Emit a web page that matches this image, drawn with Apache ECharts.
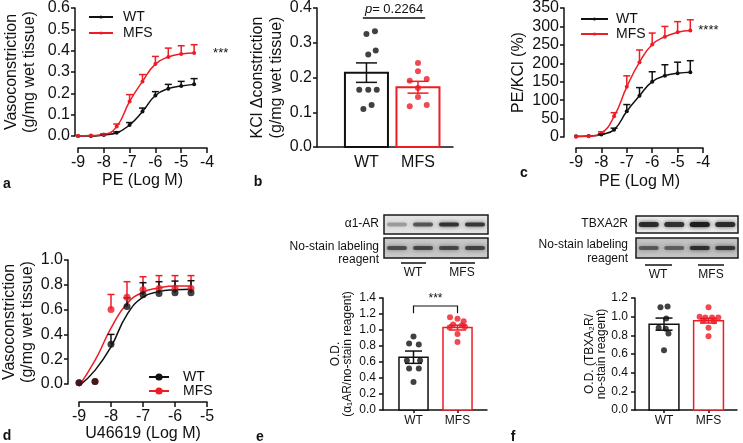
<!DOCTYPE html>
<html>
<head>
<meta charset="utf-8">
<script src="https://cdn.jsdelivr.net/npm/echarts@6/dist/echarts.min.js"></script>
<style>
  html, body { margin: 0; background: #fff; }
  #chart { width: 743px; height: 443px; }
</style>
</head>
<body>
<div id="chart"></div>
<script>
// a: PE dose response (g/mg wet tissue)
const doseA = [-9, -8.5, -8, -7.5, -7, -6.5, -6, -5.5, -5, -4.5];
const aWT = [0, 0, 0.005, 0.015, 0.052, 0.115, 0.19, 0.222, 0.234, 0.242];
const aWTsem = [0, 0, 0.003, 0.004, 0.011, 0.016, 0.018, 0.02, 0.022, 0.027];
const aMFS = [0, 0.002, 0.007, 0.044, 0.162, 0.256, 0.337, 0.37, 0.384, 0.389];
const aMFSsem = [0, 0, 0.003, 0.012, 0.032, 0.032, 0.036, 0.042, 0.039, 0.039];

// b: KCl constriction, individual animals
const groups = ['WT', 'MFS'];
const bMean = [0.214, 0.172];
const bSem = [0.028, 0.017];
const bWTdots = [[1.0, 0.325], [1.165, 0.333], [1.035, 0.266], [1.18, 0.278], [0.86, 0.165], [1.035, 0.165], [1.2, 0.165], [0.94, 0.109], [1.1, 0.121]];
const bMFSdots = [[2.0, 0.242], [2.0, 0.218], [1.84, 0.191], [2.17, 0.196], [2.0, 0.17], [2.0, 0.144], [1.84, 0.117], [2.17, 0.121]];

// c: PE/KCl (%)
const cWT = [2, 3, 7, 20, 70, 112, 150, 166, 173, 176];
const cWTsem = [0, 0, 1, 4, 18, 22, 27, 30, 30, 31];
const cMFS = [1, 2, 11, 56, 136, 203, 251, 272, 284, 289];
const cMFSsem = [0, 1, 3, 10, 30, 33, 31, 28, 29, 29];

// d: U46619 dose response, points and fitted curves
const doseD = [-9, -8.5, -8, -7.5, -7, -6.5, -6, -5.5];
const dWT = [0.01, 0.02, 0.32, 0.625, 0.72, 0.73, 0.735, 0.735];
const dWTsem = [0, 0, 0.08, 0.07, 0.097, 0.095, 0.095, 0.098];
const dMFS = [0.01, 0.02, 0.60, 0.70, 0.76, 0.77, 0.77, 0.77];
const dMFSsem = [0, 0, 0.122, 0.125, 0.105, 0.104, 0.104, 0.104];
const dWTfit = [-0.015, 0.11, 0.30, 0.56, 0.70, 0.745, 0.76, 0.765];
const dMFSfit = [-0.015, 0.19, 0.45, 0.65, 0.74, 0.775, 0.79, 0.79];

// e: alpha1-AR optical density
const eMean = [0.66, 1.03];
const eSem = [0.077, 0.03];
const eWTdots = [[1.0, 0.92], [0.9, 0.83], [1.12, 0.82], [0.85, 0.62], [1.15, 0.62], [0.9, 0.52], [1.12, 0.52], [1.0, 0.35]];
const eMFSdots = [[1.83, 1.16], [2.0, 1.14], [2.14, 1.11], [1.9, 1.07], [2.1, 1.06], [1.82, 1.03], [2.17, 1.04], [2.0, 0.95], [2.0, 0.85]];

// f: TBXA2R optical density
const fMean = [0.92, 0.957];
const fSem = [0.065, 0.025];
const fWTdots = [[0.92, 1.10], [1.08, 1.11], [1.05, 0.98], [0.88, 0.88], [1.04, 0.87], [1.1, 0.82], [1.0, 0.64]];
const fMFSdots = [[2.0, 1.10], [1.8, 1.0], [1.93, 0.99], [2.08, 0.99], [2.22, 0.99], [1.88, 0.96], [2.12, 0.95], [2.0, 0.88], [2.0, 0.79]];

// blot lane intensities (0..1)
const blotA1 = [0.12, 0.55, 0.8, 0.75];
const blotA1ns = [0.55, 0.6, 0.6, 0.62];
const blotTx = [0.85, 0.8, 1.0, 0.85];
const blotTxns = [0.45, 0.4, 0.8, 0.75];

const BLACK = '#111111';
const RED = '#ee1c25';
const FONT = 'Liberation Sans, Arial, sans-serif';

const chart = echarts.init(document.getElementById('chart'));

const pair = (xs, ys) => xs.map((x, i) => [x, ys[i]]);
const triple = (xs, ys, es) => xs.map((x, i) => [x, ys[i], es[i]]);

function axisBase(fontSize, tickLen, margin) {
  return {
    axisLine: { show: true, onZero: false, lineStyle: { color: BLACK, width: 1.5 } },
    axisTick: { show: true, length: tickLen, lineStyle: { color: BLACK, width: 1.5 } },
    axisLabel: { color: BLACK, fontSize: fontSize, margin: margin, fontFamily: FONT },
    splitLine: { show: false },
    nameTextStyle: { color: BLACK, fontSize: fontSize, fontFamily: FONT },
  };
}

// upward error bar (dose-response)
function errUp(cap) {
  return (params, api) => {
    const e = api.value(2);
    if (!e) return;
    const p0 = api.coord([api.value(0), api.value(1)]);
    const p1 = api.coord([api.value(0), api.value(1) + e]);
    const style = { stroke: api.visual('color'), lineWidth: 1.5 };
    return {
      type: 'group',
      children: [
        { type: 'line', shape: { x1: p0[0], y1: p0[1], x2: p1[0], y2: p1[1] }, style },
        { type: 'line', shape: { x1: p1[0] - cap / 2, y1: p1[1], x2: p1[0] + cap / 2, y2: p1[1] }, style },
      ],
    };
  };
}

// symmetric SEM bar (bar + dots)
function errBoth(cap) {
  return (params, api) => {
    const x = api.value(0), y = api.value(1), e = api.value(2);
    const pt = api.coord([x, y + e]);
    const pb = api.coord([x, y - e]);
    const style = { stroke: api.visual('color'), lineWidth: 1.5 };
    return {
      type: 'group',
      children: [
        { type: 'line', shape: { x1: pt[0], y1: pt[1], x2: pb[0], y2: pb[1] }, style },
        { type: 'line', shape: { x1: pt[0] - cap / 2, y1: pt[1], x2: pt[0] + cap / 2, y2: pt[1] }, style },
        { type: 'line', shape: { x1: pb[0] - cap / 2, y1: pb[1], x2: pb[0] + cap / 2, y2: pb[1] }, style },
      ],
    };
  };
}

function barRect(w, lw) {
  return (params, api) => {
    const x = api.value(0), y = api.value(1);
    const p0 = api.coord([x - w / 2, y]);
    const p1 = api.coord([x + w / 2, 0]);
    return {
      type: 'rect',
      shape: { x: p0[0], y: p0[1], width: p1[0] - p0[0], height: p1[1] - p0[1] },
      style: { fill: '#fff', stroke: api.visual('color'), lineWidth: lw },
    };
  };
}

function curve(name, xs, ys, color, idx, sym, size) {
  return {
    name, type: 'line', xAxisIndex: idx, yAxisIndex: idx,
    data: pair(xs, ys), smooth: 0.5,
    symbol: sym, symbolSize: size, showSymbol: sym !== 'none', clip: false,
    lineStyle: { color, width: 1.5 }, itemStyle: { color }, z: 2,
  };
}

function errSeries(xs, ys, es, color, idx, fn) {
  return {
    type: 'custom', xAxisIndex: idx, yAxisIndex: idx, renderItem: fn,
    data: triple(xs, ys, es), itemStyle: { color }, clip: false, z: 3, silent: true,
  };
}

function dots(data, color, idx, size) {
  return {
    type: 'scatter', xAxisIndex: idx, yAxisIndex: idx, data,
    symbolSize: size, itemStyle: { color }, z: 4, silent: true,
  };
}

function starsAfter(x, y, text, idx, dx) {
  return {
    type: 'custom', xAxisIndex: idx, yAxisIndex: idx, data: [[x, y]], clip: false, silent: true,
    renderItem: (params, api) => {
      const p = api.coord([api.value(0), api.value(1)]);
      return { type: 'text', x: p[0] + dx, y: p[1], style: { text, fill: BLACK, fontSize: 13, fontFamily: FONT, verticalAlign: 'middle' } };
    },
  };
}

function blot(x, y, w, h, bg, lanes, bandH) {
  const children = [{ type: 'rect', shape: { x, y, width: w, height: h },
    style: { fill: { type: 'linear', x: 0, y: 0, x2: 0, y2: 1, colorStops: [{ offset: 0, color: bg[0] }, { offset: 0.5, color: bg[1] }, { offset: 1, color: bg[0] }] },
      stroke: '#1a1a1a', lineWidth: 1.5 } }];
  lanes.forEach((v, i) => {
    const cx = x + w * (i + 0.5) / lanes.length;
    const a = 0.2 + 0.8 * v;
    children.push({
      type: 'rect', shape: { x: cx - 10, y: y + h / 2 - bandH / 2, width: 20, height: bandH, r: bandH / 2 },
      style: { fill: `rgba(30,30,30,${a.toFixed(2)})`, shadowBlur: 4, shadowColor: `rgba(30,30,30,${(a * 0.9).toFixed(2)})` },
    });
  });
  return { type: 'group', children };
}

const txt = (x, y, text, opts) => ({
  type: 'text', x, y,
  style: Object.assign({ text, fill: BLACK, fontSize: 12, fontFamily: FONT, align: 'center', verticalAlign: 'middle' }, opts || {}),
});
const vtxt = (x, y, text) => ({
  type: 'text', x, y, rotation: Math.PI / 2,
  style: { text, fill: BLACK, fontSize: 12, lineHeight: 12, fontFamily: FONT, align: 'center', verticalAlign: 'middle' },
});
const hline = (x1, x2, y) => ({ type: 'line', shape: { x1, y1: y, x2, y2: y }, style: { stroke: BLACK, lineWidth: 1.5 } });
const oneDec = (v) => v.toFixed(1);

const option = {
  animation: false,
  textStyle: { fontFamily: FONT },
  grid: [
    { left: 78, top: 8, width: 129, height: 128, outerBoundsMode: 'none' },
    { left: 317, top: 8, width: 136, height: 139, outerBoundsMode: 'none' },
    { left: 576, top: 8, width: 127, height: 129, outerBoundsMode: 'none' },
    { left: 79, top: 260, width: 128, height: 124, outerBoundsMode: 'none' },
    { left: 383, top: 298, width: 104, height: 112, outerBoundsMode: 'none' },
    { left: 635, top: 298, width: 102, height: 112, outerBoundsMode: 'none' },
  ],
  xAxis: [
    Object.assign(axisBase(16, 5, 7), { gridIndex: 0, type: 'value', min: -9, max: -4, interval: 1, offset: 12,
      name: 'PE (Log M)', nameLocation: 'middle', nameGap: 25 }),
    Object.assign(axisBase(16, 5, 8), { gridIndex: 1, type: 'value', min: 0.04, max: 2.68,
      axisTick: { show: false },
      axisLabel: { color: BLACK, fontSize: 16, margin: 8, fontFamily: FONT, customValues: [1, 2], formatter: (v) => groups[Math.round(v) - 1] } }),
    Object.assign(axisBase(16, 5, 7), { gridIndex: 2, type: 'value', min: -9, max: -4, interval: 1, offset: 11,
      name: 'PE (Log M)', nameLocation: 'middle', nameGap: 26 }),
    Object.assign(axisBase(16, 5, 7), { gridIndex: 3, type: 'value', min: -9, max: -5, interval: 1, offset: 18,
      name: 'U46619 (Log M)', nameLocation: 'middle', nameGap: 21 }),
    Object.assign(axisBase(12, 3, 5), { gridIndex: 4, type: 'value', min: 0.307, max: 2.67,
      axisTick: { show: true, length: 3, customValues: [1, 2], lineStyle: { color: BLACK, width: 1.5 } },
      axisLabel: { color: BLACK, fontSize: 12, margin: 5, fontFamily: FONT, customValues: [1, 2], formatter: (v) => groups[Math.round(v) - 1] } }),
    Object.assign(axisBase(12, 3, 5), { gridIndex: 5, type: 'value', min: 0.348, max: 2.64,
      axisTick: { show: true, length: 3, customValues: [1, 2], lineStyle: { color: BLACK, width: 1.5 } },
      axisLabel: { color: BLACK, fontSize: 12, margin: 5, fontFamily: FONT, customValues: [1, 2], formatter: (v) => groups[Math.round(v) - 1] } }),
  ],
  yAxis: [
    Object.assign(axisBase(16, 4, 5), { gridIndex: 0, type: 'value', min: 0, max: 0.6, interval: 0.1, offset: 3,
      axisLabel: { color: BLACK, fontSize: 16, margin: 5, fontFamily: FONT, formatter: oneDec },
      name: 'Vasoconstriction\n(g/mg wet tissue)', nameLocation: 'middle', nameRotate: 90, nameGap: 36,
      nameTextStyle: { color: BLACK, fontSize: 16, lineHeight: 18, fontFamily: FONT } }),
    Object.assign(axisBase(16, 4, 5), { gridIndex: 1, type: 'value', min: 0, max: 0.4, interval: 0.1,
      axisLabel: { color: BLACK, fontSize: 16, margin: 5, fontFamily: FONT, formatter: oneDec },
      name: 'KCl Δconstriction\n(g/mg wet tissue)', nameLocation: 'middle', nameRotate: 90, nameGap: 26,
      nameTextStyle: { color: BLACK, fontSize: 16, lineHeight: 19, fontFamily: FONT } }),
    Object.assign(axisBase(16, 4, 5), { gridIndex: 2, type: 'value', min: 0, max: 350, interval: 50, offset: 12,
      name: 'PE/KCl (%)', nameLocation: 'middle', nameRotate: 90, nameGap: 37 }),
    Object.assign(axisBase(16, 4, 5), { gridIndex: 3, type: 'value', min: 0, max: 1.0, interval: 0.2, offset: 11,
      axisLabel: { color: BLACK, fontSize: 16, margin: 5, fontFamily: FONT, formatter: oneDec },
      name: 'Vasoconstriction\n(g/mg wet tissue)', nameLocation: 'middle', nameRotate: 90, nameGap: 29,
      nameTextStyle: { color: BLACK, fontSize: 16, lineHeight: 18, fontFamily: FONT } }),
    Object.assign(axisBase(12, 4, 7), { gridIndex: 4, type: 'value', min: 0, max: 1.4, interval: 0.2,
      axisLabel: { color: BLACK, fontSize: 12, margin: 7, fontFamily: FONT, formatter: oneDec } }),
    Object.assign(axisBase(12, 4, 7), { gridIndex: 5, type: 'value', min: 0, max: 1.2, interval: 0.2,
      axisLabel: { color: BLACK, fontSize: 12, margin: 7, fontFamily: FONT, formatter: oneDec } }),
  ],
  legend: [
    { data: ['WT_a', 'MFS_a'], left: 83, top: 5, orient: 'vertical', itemWidth: 24, itemHeight: 4, itemGap: 2,
      formatter: (n) => n.split('_')[0], textStyle: { fontSize: 14, color: BLACK, padding: [0, 0, 0, 5] }, selectedMode: false },
    { data: ['WT_c', 'MFS_c'], left: 575, top: 7, orient: 'vertical', itemWidth: 27, itemHeight: 4, itemGap: 1,
      formatter: (n) => n.split('_')[0], textStyle: { fontSize: 14, color: BLACK, padding: [0, 0, 0, 3] }, selectedMode: false },
    { data: ['WT_d', 'MFS_d'], left: 143, top: 365, orient: 'vertical', itemWidth: 20, itemHeight: 9, itemGap: 0,
      formatter: (n) => n.split('_')[0], textStyle: { fontSize: 14, color: BLACK, padding: [0, 0, 0, 9] }, selectedMode: false },
  ],
  series: [
    // a
    curve('WT_a', doseA, aWT, BLACK, 0, 'circle', 4),
    curve('MFS_a', doseA, aMFS, RED, 0, 'circle', 4),
    errSeries(doseA, aWT, aWTsem, BLACK, 0, errUp(7)),
    errSeries(doseA, aMFS, aMFSsem, RED, 0, errUp(7)),
    starsAfter(doseA[doseA.length - 1], aMFS[aMFS.length - 1], '***', 0, 19),
    // b
    { type: 'custom', xAxisIndex: 1, yAxisIndex: 1, renderItem: barRect(0.835, 2), data: [[1, bMean[0]]], itemStyle: { color: BLACK }, z: 1 },
    { type: 'custom', xAxisIndex: 1, yAxisIndex: 1, renderItem: barRect(0.835, 2), data: [[2, bMean[1]]], itemStyle: { color: RED }, z: 1 },
    dots(bWTdots, BLACK, 1, 6),
    dots(bMFSdots, RED, 1, 6),
    errSeries([1], [bMean[0]], [bSem[0]], BLACK, 1, errBoth(21)),
    errSeries([2], [bMean[1]], [bSem[1]], RED, 1, errBoth(21)),
    { type: 'custom', xAxisIndex: 1, yAxisIndex: 1, data: [[0.93, 2.14, 0.371]], clip: false, silent: true,
      renderItem: (params, api) => {
        const p0 = api.coord([api.value(0), api.value(2)]);
        const p1 = api.coord([api.value(1), api.value(2)]);
        return { type: 'group', children: [
          { type: 'line', shape: { x1: p0[0], y1: p0[1], x2: p1[0], y2: p1[1] }, style: { stroke: BLACK, lineWidth: 1.5 } },
          { type: 'text', x: (p0[0] + p1[0]) / 2, y: p0[1] - 2,
            style: { text: '{i|p}= 0.2264', fill: BLACK, fontSize: 13, fontFamily: FONT, align: 'center', verticalAlign: 'bottom',
              rich: { i: { fontStyle: 'italic', fontSize: 13, fontFamily: FONT } } } },
        ] };
      } },
    // c
    curve('WT_c', doseA, cWT, BLACK, 2, 'circle', 4),
    curve('MFS_c', doseA, cMFS, RED, 2, 'circle', 4),
    errSeries(doseA, cWT, cWTsem, BLACK, 2, errUp(7)),
    errSeries(doseA, cMFS, cMFSsem, RED, 2, errUp(7)),
    starsAfter(doseA[doseA.length - 1], cMFS[cMFS.length - 1], '****', 2, 8),
    // d
    curve('MFS_d', doseD, dMFSfit, RED, 3, 'none', 0),
    curve('WT_d', doseD, dWTfit, BLACK, 3, 'none', 0),
    errSeries(doseD, dMFS, dMFSsem, RED, 3, errUp(7)),
    dots(pair(doseD, dMFS), RED, 3, 7),
    errSeries(doseD, dWT, dWTsem, BLACK, 3, errUp(7)),
    dots(pair(doseD, dWT), BLACK, 3, 7),
    // e
    { type: 'custom', xAxisIndex: 4, yAxisIndex: 4, renderItem: barRect(0.66, 1.5), data: [[1, eMean[0]]], itemStyle: { color: BLACK }, z: 1 },
    { type: 'custom', xAxisIndex: 4, yAxisIndex: 4, renderItem: barRect(0.66, 1.5), data: [[2, eMean[1]]], itemStyle: { color: RED }, z: 1 },
    dots(eWTdots, BLACK, 4, 6),
    dots(eMFSdots, RED, 4, 6),
    errSeries([1], [eMean[0]], [eSem[0]], BLACK, 4, errBoth(17)),
    errSeries([2], [eMean[1]], [eSem[1]], RED, 4, errBoth(17)),
    { type: 'custom', xAxisIndex: 4, yAxisIndex: 4, data: [[1, 2, 1.30, 1.21]], clip: false, silent: true,
      renderItem: (params, api) => {
        const a = api.coord([api.value(0), api.value(2)]);
        const b = api.coord([api.value(1), api.value(2)]);
        const d = api.coord([api.value(0), api.value(3)]);
        return { type: 'group', children: [
          { type: 'polyline', shape: { points: [[a[0], d[1]], a, b, [b[0], d[1]]] }, style: { stroke: BLACK, lineWidth: 1.2, fill: null } },
          { type: 'text', x: (a[0] + b[0]) / 2, y: a[1] - 1,
            style: { text: '***', fill: BLACK, fontSize: 12, fontFamily: FONT, align: 'center', verticalAlign: 'bottom' } },
        ] };
      } },
    // f
    { type: 'custom', xAxisIndex: 5, yAxisIndex: 5, renderItem: barRect(0.67, 1.5), data: [[1, fMean[0]]], itemStyle: { color: BLACK }, z: 1 },
    { type: 'custom', xAxisIndex: 5, yAxisIndex: 5, renderItem: barRect(0.67, 1.5), data: [[2, fMean[1]]], itemStyle: { color: RED }, z: 1 },
    dots(fWTdots, BLACK, 5, 6),
    dots(fMFSdots, RED, 5, 6),
    errSeries([1], [fMean[0]], [fSem[0]], BLACK, 5, errBoth(17)),
    errSeries([2], [fMean[1]], [fSem[1]], RED, 5, errBoth(17)),
  ],
  graphic: [
    // panel letters
    txt(7, 184, 'a', { fontSize: 14, fontWeight: 'bold' }),
    txt(258, 182, 'b', { fontSize: 14, fontWeight: 'bold' }),
    txt(524, 173, 'c', { fontSize: 14, fontWeight: 'bold' }),
    txt(7, 436, 'd', { fontSize: 14, fontWeight: 'bold' }),
    txt(260, 437, 'e', { fontSize: 14, fontWeight: 'bold' }),
    txt(513, 437, 'f', { fontSize: 14, fontWeight: 'bold' }),
    // rotated titles for the small bar panels
    vtxt(342, 354, 'O.D.\n(α\u2081AR/no-stain reagent)'),
    vtxt(596, 354, 'O.D. (TBXA\u2082R/\nno-stain reagent)'),
    // e blots
    blot(384, 215, 104, 19, ['#e6e6e6', '#dadada'], blotA1, 4),
    blot(384, 238, 104, 20, ['#cdcdcd', '#bdbdbd'], blotA1ns, 4),
    txt(379, 224, 'α1-AR', { align: 'right' }),
    txt(379, 247, 'No-stain labeling', { align: 'right' }),
    txt(379, 260, 'reagent', { align: 'right' }),
    hline(401, 426, 263), hline(450, 475, 263),
    txt(413, 273, 'WT'), txt(462, 273, 'MFS'),
    // f blots
    blot(636, 216, 102, 17, ['#eeeeee', '#e2e2e2'], blotTx, 5),
    blot(636, 238, 102, 20, ['#c8c8c8', '#b8b8b8'], blotTxns, 4),
    txt(628, 224, 'TBXA2R', { align: 'right' }),
    txt(628, 245, 'No-stain labeling', { align: 'right' }),
    txt(628, 259, 'reagent', { align: 'right' }),
    hline(645, 672, 265), hline(698, 724, 265),
    txt(658, 275, 'WT'), txt(711, 275, 'MFS'),
  ],
};

chart.setOption(option);
</script>
</body>
</html>
